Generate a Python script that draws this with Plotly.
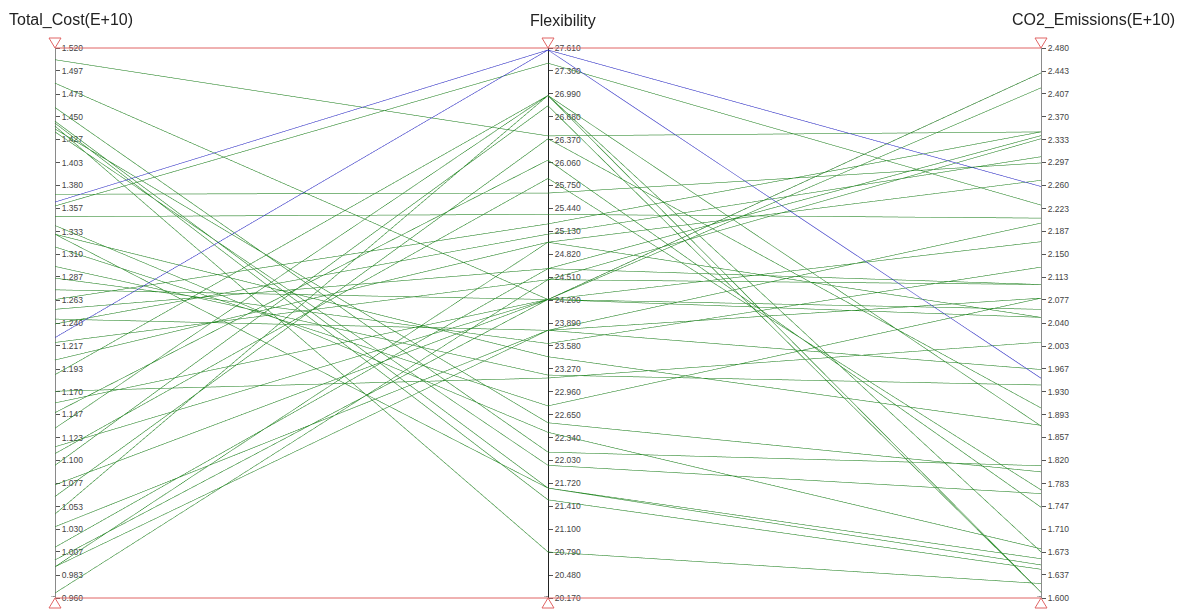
import plotly.graph_objects as go

# Each polyline: (total cost, flexibility, CO2 emissions); 1 marks highlighted solutions
total_cost = [1.510, 1.486, 1.461, 1.447, 1.445, 1.442, 1.436, 1.439, 1.372, 1.360,
              1.349, 1.340, 1.331, 1.318, 1.298, 1.286, 1.274, 1.264, 1.254, 1.244,
              1.239, 1.220, 1.202, 1.187, 1.170, 1.158, 1.148, 1.132, 1.113, 1.106,
              1.094, 1.074, 1.062, 1.044, 1.031, 1.010, 0.997, 0.990, 0.990, 0.963,
              1.331, 1.364, 1.225]
flexibility = [26.44, 24.21, 22.13, 21.64, 21.48, 20.77, 21.95, 22.53, 25.66, 27.43,
               25.37, 22.40, 23.43, 22.76, 23.18, 23.61, 24.21, 25.24, 24.63, 23.79,
               25.10, 24.48, 24.99, 26.99, 23.14, 24.21, 26.11, 26.99, 24.21, 25.86,
               26.85, 24.21, 26.40, 26.99, 23.79, 24.63, 24.21, 24.99, 23.79, 24.48,
               21.64, 27.61, 27.61]
co2_emissions = [2.348, 2.443, 1.810, 1.650, 1.643, 1.620, 1.765, 1.800, 2.298, 2.230,
                 2.209, 1.676, 1.875, 2.080, 1.940, 2.130, 2.419, 2.348, 2.342, 2.080,
                 2.308, 2.337, 2.270, 1.606, 2.009, 2.443, 1.743, 1.671, 2.171, 1.771,
                 1.606, 2.062, 1.903, 1.874, 2.201, 2.102, 2.049, 2.049, 1.965, 2.102,
                 1.660, 2.260, 1.951]
highlight = [0] * 41 + [1, 1]

cost_labels = ["1.520", "1.497", "1.473", "1.450", "1.427", "1.403", "1.380", "1.357",
               "1.333", "1.310", "1.287", "1.263", "1.240", "1.217", "1.193", "1.170",
               "1.147", "1.123", "1.100", "1.077", "1.053", "1.030", "1.007", "0.983",
               "0.960"]
flex_labels = ["27.610", "27.300", "26.990", "26.680", "26.370", "26.060", "25.750",
               "25.440", "25.130", "24.820", "24.510", "24.200", "23.890", "23.580",
               "23.270", "22.960", "22.650", "22.340", "22.030", "21.720", "21.410",
               "21.100", "20.790", "20.480", "20.170"]
co2_labels = ["2.480", "2.443", "2.407", "2.370", "2.333", "2.297", "2.260", "2.223",
              "2.187", "2.150", "2.113", "2.077", "2.040", "2.003", "1.967", "1.930",
              "1.893", "1.857", "1.820", "1.783", "1.747", "1.710", "1.673", "1.637",
              "1.600"]

axis_titles = ["Total_Cost(E+10)", "Flexibility", "CO2_Emissions(E+10)"]
ranges = [[0.960, 1.520], [20.170, 27.610], [1.600, 2.480]]
label_sets = [cost_labels, flex_labels, co2_labels]
columns = [total_cost, flexibility, co2_emissions]

GREEN = "#1f8a1f"
BLUE = "#2a2ad2"
RED = "#e06464"
FONT = "Liberation Sans, Arial, sans-serif"

fig = go.Figure()

fig.add_trace(go.Parcoords(
    line=dict(color=highlight, colorscale=[[0, GREEN], [1, BLUE]], cmin=0, cmax=1),
    dimensions=[dict(label="", values=vals, range=rng, tickvals=[rng[0]], ticktext=[""])
                for vals, rng in zip(columns, ranges)],
    tickfont=dict(size=1, color="rgba(0,0,0,0)"),
    rangefont=dict(size=1, color="rgba(0,0,0,0)"),
    labelfont=dict(size=1, color="rgba(0,0,0,0)"),
    domain=dict(x=[0, 1], y=[0, 1]),
))

# Value axes drawn beside each coordinate, labels on the right-hand side
axis_names = ["y", "y2", "y3"]
positions = [0.0, 0.5, 1.0]
axis_line_colors = ["#8a8a8a", "#222222", "#8a8a8a"]
for i, (name, rng, labels, pos) in enumerate(zip(axis_names, ranges, label_sets, positions)):
    fig.add_trace(go.Scatter(x=[], y=[], yaxis=name, showlegend=False, hoverinfo="skip"))
    key = "yaxis" if i == 0 else f"yaxis{i + 1}"
    ax = dict(range=rng, tickvals=[float(t) for t in labels], ticktext=labels,
              side="right", anchor="free", position=pos, ticks="outside", ticklen=4,
              tickcolor="#555", showgrid=False, zeroline=False, showline=True,
              linecolor=axis_line_colors[i], linewidth=1,
              tickfont=dict(family=FONT, size=8.5, color="#444"),
              fixedrange=True)
    if i > 0:
        ax["overlaying"] = "y"
    fig.layout[key] = ax

fig.update_layout(
    width=1183, height=614,
    margin=dict(l=55, r=142, t=48, b=11),
    paper_bgcolor="white", plot_bgcolor="rgba(0,0,0,0)",
    xaxis=dict(domain=[0, 1], range=[0, 1], visible=False, fixedrange=True),
    showlegend=False,
)

# Red range bars across the top and bottom of all axes
for yv in (0, 1):
    fig.add_shape(type="line", xref="paper", yref="paper", x0=0, x1=1, y0=yv, y1=yv,
                  line=dict(color=RED, width=1), layer="above")

# Range-handle triangles on each axis
for pos in positions:
    fig.add_shape(type="path", xref="paper", yref="paper", xsizemode="pixel", ysizemode="pixel",
                  xanchor=pos, yanchor=1, path="M -6,10 L 6,10 L 0,0 Z",
                  line=dict(color=RED, width=1), fillcolor="white", layer="above")
    fig.add_shape(type="path", xref="paper", yref="paper", xsizemode="pixel", ysizemode="pixel",
                  xanchor=pos, yanchor=0, path="M -6,-10 L 6,-10 L 0,0 Z",
                  line=dict(color=RED, width=1), fillcolor="white", layer="above")

# Axis titles
title_x = [0.0162, 0.515, 1.053]
for title, tx in zip(axis_titles, title_x):
    fig.add_annotation(text=title, xref="paper", yref="paper", x=tx, y=1,
                       xanchor="center", yanchor="middle", yshift=28, showarrow=False,
                       font=dict(family=FONT, size=16, color="#222"))

fig.write_html("out.html")
